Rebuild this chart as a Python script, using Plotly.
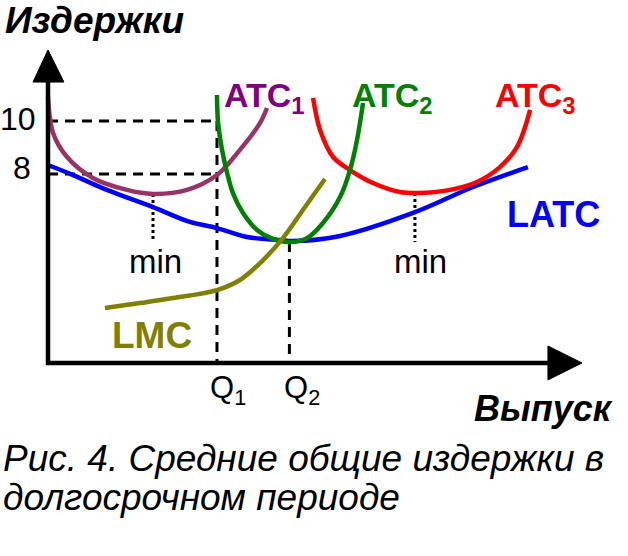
import plotly.graph_objects as go

# ---- data (economic units: Q on x, cost on y) ----
atc1_q = [0.0, 0.21, 0.79, 1.86, 3.27, 4.35, 5.76, 7.0, 7.95, 8.78, 9.07]
atc1_c = [10.91, 9.55, 8.64, 7.85, 7.40, 7.25, 7.40, 7.96, 8.91, 9.92, 10.49]

atc2_q = [7.0, 7.04, 7.21, 7.42, 7.66, 8.08, 8.66, 9.32, 10.02, 10.73, 11.39, 12.10, 12.51, 12.80, 13.05]
atc2_c = [10.98, 10.0, 8.91, 8.04, 7.28, 6.53, 5.89, 5.55, 5.43, 5.58, 6.15, 7.13, 8.15, 9.28, 10.68]

atc3_q = [10.98, 11.27, 11.81, 12.51, 13.46, 14.58, 15.29, 16.65, 17.77, 18.72, 19.43, 19.97]
atc3_c = [10.87, 9.66, 8.64, 8.15, 7.66, 7.32, 7.28, 7.40, 7.70, 8.26, 9.02, 10.42]

latc_q = [0.0, 1.04, 2.44, 4.35, 5.88, 7.0, 8.24, 9.61, 10.15, 12.10, 15.12, 17.61, 19.88]
latc_c = [8.34, 7.96, 7.40, 6.75, 6.19, 5.96, 5.62, 5.51, 5.47, 5.66, 6.53, 7.51, 8.26]

lmc_q = [2.36, 3.81, 5.18, 7.0, 7.95, 8.91, 9.73, 10.56, 11.47]
lmc_c = [2.94, 3.13, 3.32, 3.62, 4.00, 4.75, 5.58, 6.64, 7.81]

q1, q2 = 7.0, 10.0
cost_hi, cost_lo = 10.0, 8.0
atc1_min = (4.35, 7.25)
atc3_min = (15.2, 7.28)
latc_min = 5.43
y_tick_labels = ["10", "8"]
x_tick_labels = ["Q<sub>1</sub>", "Q<sub>2</sub>"]

# ---- layout constants ----
W, H = 628, 556
X0_PX, PX_PER_X = 48, 24.14
Y10_PX, PX_PER_Y = 121, 26.5
XR = [-X0_PX / PX_PER_X, (W - X0_PX) / PX_PER_X]
YR = [10 - (H - Y10_PX) / PX_PER_Y, 10 + Y10_PX / PX_PER_Y]
AX_Y = 0.87          # vertical position of the horizontal axis
FONT = "Liberation Sans"

fig = go.Figure()

def curve(q, c, color, name):
    fig.add_trace(go.Scatter(x=q, y=c, mode="lines", name=name,
                             line=dict(color=color, width=4.5, shape="spline", smoothing=1.0),
                             hoverinfo="skip", showlegend=False))

curve(latc_q, latc_c, "#0000ff", "LATC")
curve(atc1_q, atc1_c, "#993366", "ATC1")
curve(atc3_q, atc3_c, "#ff0000", "ATC3")
curve(atc2_q, atc2_c, "#008000", "ATC2")
curve(lmc_q, lmc_c, "#808000", "LMC")

shapes = []
dash = "10px,7px"
# dashed guide lines
shapes.append(dict(type="line", x0=0, x1=q1, y0=cost_hi, y1=cost_hi, line=dict(color="black", width=3, dash=dash), layer="below"))
shapes.append(dict(type="line", x0=0, x1=q1, y0=cost_lo, y1=cost_lo, line=dict(color="black", width=3, dash=dash), layer="below"))
shapes.append(dict(type="line", x0=q1, x1=q1, y0=cost_hi, y1=AX_Y, line=dict(color="black", width=3, dash=dash), layer="below"))
shapes.append(dict(type="line", x0=q2, x1=q2, y0=latc_min, y1=AX_Y, line=dict(color="black", width=3, dash=dash), layer="below"))
# dotted min lines
for mx, my in (atc1_min, atc3_min):
    shapes.append(dict(type="line", x0=mx, x1=mx, y0=my, y1=latc_min, line=dict(color="black", width=3, dash="3px,3px"), layer="below"))
# axes
shapes.append(dict(type="line", x0=0, x1=0, y0=AX_Y - 0.08, y1=11.6, line=dict(color="black", width=4.5)))
shapes.append(dict(type="line", x0=-0.08, x1=20.9, y0=AX_Y, y1=AX_Y, line=dict(color="black", width=4.5)))
shapes.append(dict(type="path", path="M -0.62 11.47 L 0 12.68 L 0.66 11.47 Z", fillcolor="black", line=dict(color="black", width=1)))
shapes.append(dict(type="path", path=f"M 20.71 {AX_Y+0.64} L 22.12 {AX_Y} L 20.71 {AX_Y-0.64} Z", fillcolor="black", line=dict(color="black", width=1)))

ann = []
def text(t, x, y, size, color="black", xanchor="left", weight="normal", style="normal"):
    ann.append(dict(text=t, x=x, y=y, xref="x", yref="y", showarrow=False, xanchor=xanchor, yanchor="middle",
                    font=dict(family=FONT, size=size, color=color, weight=weight, style=style)))

text("Издержки", -1.88, 13.81, 37, weight="bold", style="italic")
text(y_tick_labels[0], -0.42, 10.08, 32, xanchor="right")
text(y_tick_labels[1], -0.62, 8.23, 32, xanchor="right")
text("ATC<sub>1</sub>", 7.2, 10.9, 34, color="#800080", weight="bold")
text("ATC<sub>2</sub>", 12.5, 10.9, 34, color="#008000", weight="bold")
text("ATC<sub>3</sub>", 18.42, 10.9, 34, color="#ff0000", weight="bold")
text("LATC", 18.95, 6.49, 36, color="#0000ff", weight="bold")
text("LMC", 2.55, 1.92, 37, color="#808000", weight="bold")
text("min", 4.47, 4.68, 33, xanchor="center")
text("min", 15.41, 4.68, 33, xanchor="center")
text(x_tick_labels[0], 6.63, -0.15, 31)
text(x_tick_labels[1], 9.69, -0.15, 31)
text("Выпуск", 17.55, -0.83, 36, weight="bold", style="italic")
text("Рис. 4. Средние общие издержки в", -1.96, -2.72, 37, style="italic")
text("долгосрочном периоде", -1.96, -4.19, 37, style="italic")

fig.update_layout(
    width=W, height=H, margin=dict(l=0, r=0, t=0, b=0),
    paper_bgcolor="white", plot_bgcolor="white",
    xaxis=dict(range=XR, visible=False, fixedrange=True),
    yaxis=dict(range=YR, visible=False, fixedrange=True),
    shapes=shapes, annotations=ann, showlegend=False,
)
fig.write_html("out.html", config={"displayModeBar": False},
               post_script="document.body.style.margin='0';document.body.style.overflow='hidden';")
